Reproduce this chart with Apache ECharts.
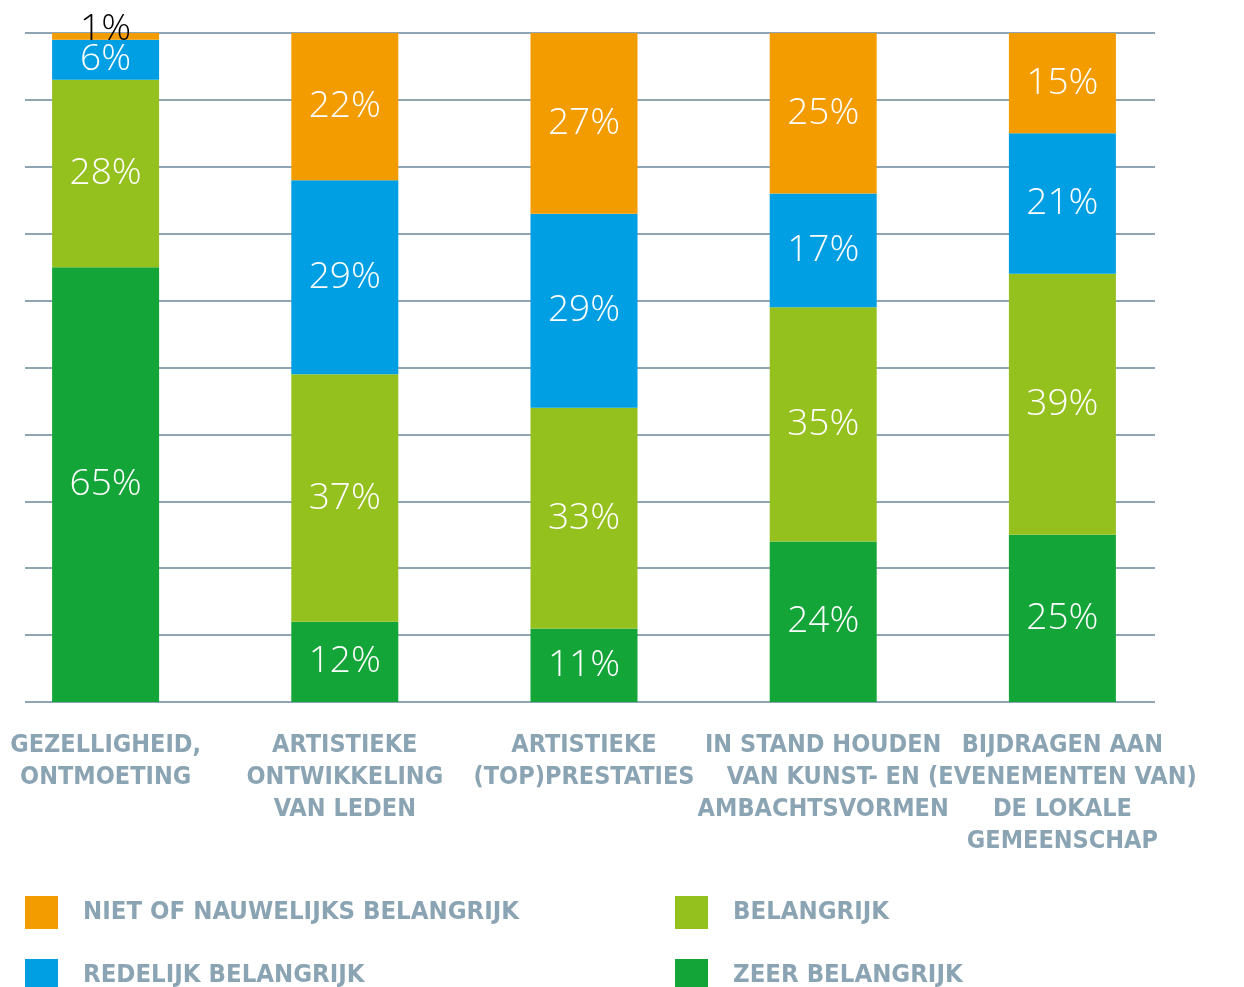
<!DOCTYPE html>
<html>
<head>
<meta charset="utf-8">
<script src="https://cdn.jsdelivr.net/npm/echarts@6/dist/echarts.min.js"></script>
<style>
  html, body { margin: 0; padding: 0; background: #fff; }
  #chart { width: 1244px; height: 987px; }
</style>
</head>
<body>
<div id="chart"></div>
<script>
// categories (x axis)
var categories = [
  'GEZELLIGHEID,\nONTMOETING',
  'ARTISTIEKE\nONTWIKKELING\nVAN LEDEN',
  'ARTISTIEKE\n(TOP)PRESTATIES',
  'IN STAND HOUDEN\nVAN KUNST- EN\nAMBACHTSVORMEN',
  'BIJDRAGEN AAN\n(EVENEMENTEN VAN)\nDE LOKALE\nGEMEENSCHAP'
]
// series values, percent (bottom to top in the stack)
var zeerBelangrijk = [65, 12, 11, 24, 25]
var belangrijk = [28, 37, 33, 35, 39]
var redelijkBelangrijk = [6, 29, 29, 17, 21]
var nietBelangrijk = [1, 22, 27, 25, 15]
var seriesNames = ['ZEER BELANGRIJK', 'BELANGRIJK', 'REDELIJK BELANGRIJK', 'NIET OF NAUWELIJKS BELANGRIJK']

var colors = {
  'ZEER BELANGRIJK': '#13a538',
  'BELANGRIJK': '#95c11f',
  'REDELIJK BELANGRIJK': '#009fe3',
  'NIET OF NAUWELIJKS BELANGRIJK': '#f39c00'
}
var greyText = '#8ba4b3'
var pctFont = '"Open Sans", sans-serif'
var capsFont = '"Liberation Sans Narrow", "DejaVu Sans Condensed", "Roboto", sans-serif'

function makeSeries(name, values) {
  return {
    name: name,
    type: 'bar',
    stack: 'total',
    xAxisIndex: 1,
    yAxisIndex: 1,
    barWidth: 107,
    itemStyle: { color: colors[name] },
    label: {
      show: true,
      position: 'inside',
      color: '#fff',
      fontFamily: pctFont,
      fontWeight: 300,
      fontSize: 37,
      formatter: '{c}%'
    },
    data: values.map(function(v) {
      // tiny segment: label sits above the bar in black
      if (v < 3) {
        return { value: v, label: { position: 'top', distance: -15, color: '#000' } }
      }
      return v
    })
  }
}

// one legend per item so they sit in two fixed columns
function makeLegend(name, left, top) {
  return {
    left: left,
    top: top,
    padding: 0,
    itemWidth: 33,
    itemHeight: 33,
    icon: 'rect',
    selectedMode: false,
    data: [name],
    textStyle: { color: greyText, fontFamily: capsFont, fontWeight: 'bold', fontSize: 25.5, padding: [0, 0, 0, 20] }
  }
}

var chart = echarts.init(document.getElementById('chart'))
chart.setOption({
  animation: false,
  color: seriesNames.map(function(n) { return colors[n] }),
  grid: [
    // grid lines only
    { left: 25, right: 89, top: 33, bottom: 285, outerBoundsMode: 'none' },
    // bars
    { left: -14, right: 62, top: 33, bottom: 285, outerBoundsMode: 'none' }
  ],
  xAxis: [
    { gridIndex: 0, type: 'category', data: categories, show: false },
    {
      gridIndex: 1,
      type: 'category',
      data: categories,
      axisLine: { show: false },
      axisTick: { show: false },
      axisLabel: {
        interval: 0,
        margin: 27,
        color: greyText,
        fontFamily: capsFont,
        fontWeight: 'bold',
        fontSize: 25,
        lineHeight: 32
      }
    }
  ],
  yAxis: [
    {
      gridIndex: 0,
      type: 'value',
      min: 0,
      max: 100,
      interval: 10,
      axisLine: { show: false },
      axisTick: { show: false },
      axisLabel: { show: false },
      splitLine: { lineStyle: { color: '#8fa5b3', width: 2 } }
    },
    { gridIndex: 1, type: 'value', min: 0, max: 100, show: false, splitLine: { show: false } }
  ],
  legend: [
    makeLegend('NIET OF NAUWELIJKS BELANGRIJK', 25, 896),
    makeLegend('REDELIJK BELANGRIJK', 25, 959),
    makeLegend('BELANGRIJK', 675, 896),
    makeLegend('ZEER BELANGRIJK', 675, 959)
  ],
  series: [
    makeSeries(seriesNames[0], zeerBelangrijk),
    makeSeries(seriesNames[1], belangrijk),
    makeSeries(seriesNames[2], redelijkBelangrijk),
    makeSeries(seriesNames[3], nietBelangrijk)
  ]
})
</script>
</body>
</html>
